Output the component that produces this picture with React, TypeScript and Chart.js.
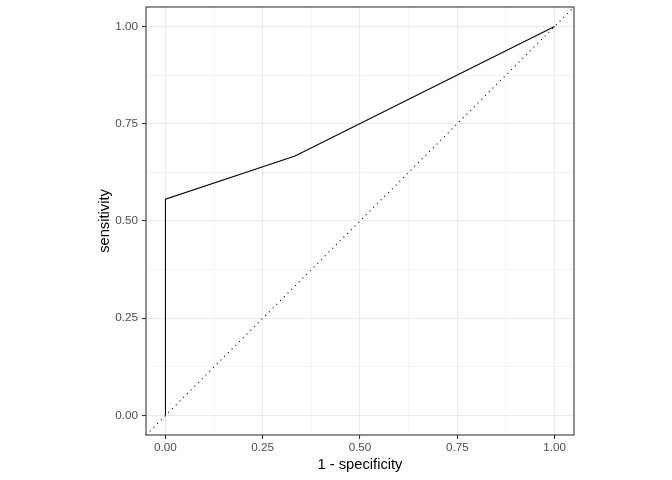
import React, { useEffect, useRef } from "react";
import { Chart, registerables } from "chart.js";

Chart.register(...registerables);

const fpr = [0, 0, 0.333, 1];
const tpr = [0, 0.556, 0.667, 1];
const diagX = [-0.05, 1.05];
const diagY = [-0.05, 1.05];
const gridValues = [0, 0.125, 0.25, 0.375, 0.5, 0.625, 0.75, 0.875, 1];
const majorValues = [0, 0.25, 0.5, 0.75, 1];

const isMajor = (v: number) => majorValues.some((m) => Math.abs(m - v) < 1e-9);

export default function App() {
  const ref = useRef<HTMLCanvasElement>(null);
  useEffect(() => {
    document.body.style.margin = "0";
    const ctx = ref.current!.getContext("2d")!;
    const tickFont = { family: "'Liberation Sans', Arial, sans-serif", size: 11.7 };
    const titleFont = { family: "'Liberation Sans', Arial, sans-serif", size: 14.7 };
    const gridOpts = {
      color: "#EBEBEB",
      lineWidth: (c: any) => (c.tick && isMajor(c.tick.value) ? 1.07 : 0.53),
      tickColor: (c: any) => (c.tick && isMajor(c.tick.value) ? "#333333" : "rgba(0,0,0,0)"),
      tickWidth: 1.07,
      tickLength: 4,
      drawOnChartArea: true,
    };
    const setTicks = (scale: any) => {
      scale.ticks = gridValues.map((v) => ({ value: v }));
    };
    const labelCb = (v: any) => (isMajor(Number(v)) ? Number(v).toFixed(2) : "");
    const chart = new Chart(ctx, {
      type: "line",
      data: {
        datasets: [
          {
            data: fpr.map((x, i) => ({ x, y: tpr[i] })),
            borderColor: "#000000",
            borderWidth: 1.07,
            pointRadius: 0,
            fill: false,
            tension: 0,
          },
          {
            data: diagX.map((x, i) => ({ x, y: diagY[i] })),
            borderColor: "#000000",
            borderWidth: 1.07,
            borderDash: [1.07, 4.2],
            pointRadius: 0,
            fill: false,
            tension: 0,
          },
        ],
      },
      options: {
        animation: false,
        responsive: false,
        maintainAspectRatio: false,
        layout: { padding: { left: 0, top: 7, right: 98, bottom: 0 } },
        plugins: { legend: { display: false }, tooltip: { enabled: false } },
        scales: {
          x: {
            type: "linear",
            min: -0.05,
            max: 1.05,
            afterBuildTicks: setTicks,
            afterFit: (s: any) => {
              s.height = 45;
              s.paddingLeft = 0;
              s.paddingRight = 0;
            },
            grid: gridOpts as any,
            border: { display: false },
            ticks: {
              callback: labelCb,
              color: "#4D4D4D",
              font: tickFont,
              padding: 2,
              maxRotation: 0,
              autoSkip: false,
            },
            title: {
              display: true,
              text: "1 - specificity",
              color: "#000000",
              font: titleFont,
              padding: { top: 0, bottom: 6 },
            },
          },
          y: {
            type: "linear",
            min: -0.05,
            max: 1.05,
            afterBuildTicks: setTicks,
            afterFit: (s: any) => {
              s.width = 146;
              s.paddingTop = 0;
              s.paddingBottom = 0;
            },
            grid: gridOpts as any,
            border: { display: false },
            ticks: {
              callback: labelCb,
              color: "#4D4D4D",
              font: tickFont,
              padding: 4,
              autoSkip: false,
            },
            title: {
              display: true,
              text: "sensitivity",
              color: "#000000",
              font: titleFont,
              padding: { top: 96, bottom: 0 },
            },
          },
        },
      },
      plugins: [
        {
          id: "panelBorder",
          afterDraw(c: any) {
            const a = c.chartArea;
            const g = c.ctx;
            g.save();
            g.strokeStyle = "#333333";
            g.lineWidth = 1.07;
            g.strokeRect(a.left, a.top, a.right - a.left, a.bottom - a.top);
            g.restore();
          },
        },
      ],
    });
    return () => chart.destroy();
  }, []);
  return (
    <div style={{ width: 672, height: 480, background: "#ffffff" }}>
      <canvas ref={ref} width={672} height={480} style={{ display: "block" }} />
    </div>
  );
}
